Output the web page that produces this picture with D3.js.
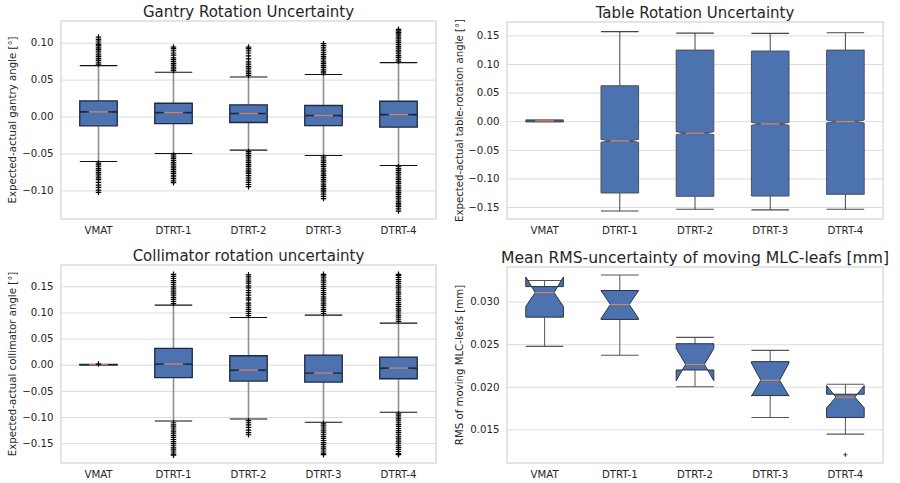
<!DOCTYPE html>
<meta charset="utf-8">
<script src="https://d3js.org/d3.v7.min.js"></script>
<style>
  body { margin: 0; background: #fff; }
  text { font-family: "DejaVu Sans", sans-serif; fill: #262626; }
</style>
<div id="my_dataviz"></div>
<script>

// categories shared by all four panels
var categories = ["VMAT", "DTRT-1", "DTRT-2", "DTRT-3", "DTRT-4"];

// ---- Gantry rotation
var gantryQ1 = [-0.0126, -0.0095, -0.0081, -0.0122, -0.0144];
var gantryMedian = [0.0063, 0.0054, 0.0041, 0.0014, 0.0027];
var gantryQ3 = [0.0212, 0.0180, 0.0158, 0.0149, 0.0207];
var gantryWhiskerLo = [-0.0608, -0.0500, -0.0455, -0.0527, -0.0662];
var gantryWhiskerHi = [0.0689, 0.0600, 0.0536, 0.0568, 0.0730];
var gantryNotchLo = [0.0057, 0.0048, 0.0035, 0.0008, 0.0021];
var gantryNotchHi = [0.0069, 0.0060, 0.0047, 0.0020, 0.0033];
var gantryOutliers = [
  [0.071, 0.0735, 0.076, 0.0785, 0.081, 0.0835, 0.086, 0.0885, 0.091, 0.093, 0.0955, 0.0973, 0.0995, 0.1022, 0.1045, 0.1076,
   -0.063, -0.0655, -0.068, -0.0705, -0.073, -0.0755, -0.078, -0.0805, -0.083, -0.0855, -0.0892, -0.0928, -0.0959, -0.0996, -0.1027],
  [0.062, 0.0645, 0.067, 0.0695, 0.072, 0.0745, 0.077, 0.0795, 0.083, 0.086, 0.089, 0.092, 0.094,
   -0.052, -0.0545, -0.057, -0.0595, -0.062, -0.0645, -0.067, -0.0695, -0.072, -0.0745, -0.077, -0.0795, -0.0815, -0.084, -0.087, -0.0896],
  [0.0555, 0.058, 0.0605, 0.063, 0.0655, 0.068, 0.071, 0.074, 0.078, 0.082, 0.086, 0.089, 0.092, 0.094,
   -0.0475, -0.05, -0.0525, -0.055, -0.0575, -0.06, -0.0625, -0.065, -0.0675, -0.07, -0.0725, -0.075, -0.077, -0.08, -0.083, -0.086, -0.089, -0.092, -0.095],
  [0.059, 0.0615, 0.064, 0.0665, 0.069, 0.0715, 0.074, 0.0765, 0.079, 0.0815, 0.084, 0.087, 0.090, 0.093, 0.096, 0.0986,
   -0.055, -0.0575, -0.060, -0.0625, -0.065, -0.0675, -0.070, -0.0725, -0.075, -0.0775, -0.080, -0.0825, -0.085, -0.0875, -0.090, -0.0925, -0.095, -0.0975, -0.0995, -0.102, -0.105, -0.108, -0.111],
  [0.075, 0.0775, 0.08, 0.0825, 0.085, 0.0875, 0.09, 0.0925, 0.095, 0.0975, 0.10, 0.1025, 0.105, 0.1075, 0.11, 0.112, 0.114, 0.116, 0.118,
   -0.068, -0.0705, -0.073, -0.0755, -0.078, -0.0805, -0.083, -0.0855, -0.088, -0.0905, -0.093, -0.0955, -0.098, -0.1005, -0.103, -0.1055, -0.108, -0.1105, -0.113, -0.1155, -0.118, -0.120, -0.122, -0.125, -0.128]
];
var gantryTicks = [-0.10, -0.05, 0.00, 0.05, 0.10];

// ---- Table rotation
var tableQ1 = [-0.0010, -0.1255, -0.1313, -0.1308, -0.1278];
var tableMedian = [0.0006, -0.0344, -0.0210, -0.0047, -0.0006];
var tableQ3 = [0.0018, 0.0619, 0.1243, 0.1226, 0.1243];
var tableWhiskerLo = [-0.0010, -0.1570, -0.1540, -0.1550, -0.1540];
var tableWhiskerHi = [0.0018, 0.1565, 0.1540, 0.1535, 0.1547];
var tableNotchLo = [0.0003, -0.0369, -0.0235, -0.0072, -0.0031];
var tableNotchHi = [0.0009, -0.0319, -0.0185, -0.0022, 0.0019];
var tableOutliers = [[], [], [], [], []];
var tableTicks = [-0.15, -0.10, -0.05, 0.00, 0.05, 0.10, 0.15];

// ---- Collimator rotation
var collQ1 = [-0.0004, -0.0248, -0.0312, -0.0331, -0.0268];
var collMedian = [0.0000, 0.0013, -0.0102, -0.0159, -0.0064];
var collQ3 = [0.0004, 0.0312, 0.0172, 0.0185, 0.0146];
var collWhiskerLo = [-0.0004, -0.1076, -0.1038, -0.1100, -0.0910];
var collWhiskerHi = [0.0004, 0.1140, 0.0904, 0.0949, 0.0796];
var collNotchLo = [-0.0002, 0.0005, -0.0110, -0.0167, -0.0072];
var collNotchHi = [0.0002, 0.0021, -0.0094, -0.0151, -0.0056];
var collOutliers = [
  [0.0012],
  [0.117, 0.121, 0.125, 0.129, 0.133, 0.137, 0.141, 0.145, 0.149, 0.153, 0.157, 0.161, 0.165, 0.169, 0.173,
   -0.111, -0.115, -0.119, -0.123, -0.127, -0.131, -0.135, -0.139, -0.143, -0.147, -0.151, -0.155, -0.159, -0.163, -0.167, -0.171, -0.173],
  [0.094, 0.098, 0.102, 0.106, 0.110, 0.114, 0.118, 0.124, 0.128, 0.133, 0.138, 0.142, 0.147, 0.151, 0.156, 0.160, 0.164, 0.168, 0.172,
   -0.107, -0.111, -0.115, -0.120, -0.125, -0.130, -0.134],
  [0.098, 0.102, 0.106, 0.110, 0.114, 0.118, 0.122, 0.126, 0.130, 0.134, 0.138, 0.142, 0.146, 0.150, 0.154, 0.158, 0.162, 0.166, 0.170, 0.173,
   -0.113, -0.117, -0.121, -0.125, -0.129, -0.133, -0.137, -0.141, -0.145, -0.149, -0.153, -0.157, -0.161, -0.165, -0.169, -0.172],
  [0.083, 0.087, 0.091, 0.095, 0.099, 0.103, 0.107, 0.111, 0.115, 0.119, 0.123, 0.127, 0.131, 0.135, 0.139, 0.143, 0.147, 0.151, 0.155, 0.159, 0.163, 0.167, 0.171, 0.173,
   -0.094, -0.098, -0.102, -0.106, -0.110, -0.114, -0.118, -0.122, -0.126, -0.130, -0.134, -0.138, -0.142, -0.146, -0.150, -0.154, -0.158, -0.162, -0.166, -0.170, -0.172]
];
var collTicks = [-0.15, -0.10, -0.05, 0.00, 0.05, 0.10, 0.15];

// ---- MLC leafs RMS
var mlcQ1 = [0.02817, 0.02790, 0.02197, 0.01897, 0.01640];
var mlcMedian = [0.03105, 0.02965, 0.02263, 0.02076, 0.01878];
var mlcQ3 = [0.03175, 0.03129, 0.02505, 0.02295, 0.01913];
var mlcWhiskerLo = [0.02474, 0.02369, 0.02000, 0.01640, 0.01445];
var mlcWhiskerHi = [0.03246, 0.03312, 0.02579, 0.02427, 0.02030];
var mlcNotchLo = [0.02942, 0.02800, 0.02072, 0.01890, 0.01753];
var mlcNotchHi = [0.03288, 0.03128, 0.02450, 0.02280, 0.02014];
var mlcOutliers = [[], [], [], [], [0.01203]];
var mlcTicks = [0.015, 0.020, 0.025, 0.030];

var svg = d3.select("#my_dataviz")
  .append("svg")
    .attr("width", 900)
    .attr("height", 483);

function drawPanel(p) {
  var x = d3.scaleBand()
    .domain(categories)
    .range([p.left, p.right])
    .padding(0);
  var y = d3.scaleLinear()
    .domain(p.domain)
    .range([p.bottom, p.top]);
  var bw = x.bandwidth() * 0.5;

  var g = svg.append("g");

  // grid
  g.append("g")
    .attr("transform", "translate(" + p.left + ",0)")
    .call(d3.axisLeft(y).tickValues(p.ticks).tickSize(-(p.right - p.left)).tickFormat(""))
    .call(function (a) { a.select(".domain").remove(); })
    .selectAll("line").attr("stroke", "#dcdcdc").attr("stroke-width", 1);

  // frame
  g.append("rect")
    .attr("x", p.left).attr("y", p.top)
    .attr("width", p.right - p.left).attr("height", p.bottom - p.top)
    .attr("fill", "none").attr("stroke", "#d2d2d2").attr("stroke-width", 1.2);

  // y axis labels
  g.append("g")
    .attr("transform", "translate(" + p.left + ",0)")
    .call(d3.axisLeft(y).tickValues(p.ticks).tickSize(0).tickPadding(7.5).tickFormat(d3.format(p.fmt)))
    .call(function (a) { a.select(".domain").remove(); })
    .selectAll("text").style("font-size", "10.2px").attr("fill", "#262626");

  // x axis labels
  g.append("g")
    .attr("transform", "translate(0," + p.bottom + ")")
    .call(d3.axisBottom(x).tickSize(0).tickPadding(8))
    .call(function (a) { a.select(".domain").remove(); })
    .selectAll("text").style("font-size", "10.2px").attr("fill", "#262626");

  var data = categories.map(function (c, i) {
    return {
      cat: c, q1: p.q1[i], med: p.median[i], q3: p.q3[i],
      lo: p.whiskerLo[i], hi: p.whiskerHi[i],
      nlo: p.notchLo[i], nhi: p.notchHi[i], fl: p.outliers[i]
    };
  });

  var boxes = g.selectAll(".box").data(data).enter().append("g");

  function cx(d) { return x(d.cat) + x.bandwidth() / 2; }

  // whiskers
  boxes.append("line")
    .attr("x1", cx).attr("x2", cx)
    .attr("y1", function (d) { return y(d.q3); })
    .attr("y2", function (d) { return y(d.hi); })
    .attr("stroke", p.whiskerColor).attr("stroke-width", p.whiskerWidth);
  boxes.append("line")
    .attr("x1", cx).attr("x2", cx)
    .attr("y1", function (d) { return y(d.q1); })
    .attr("y2", function (d) { return y(d.lo); })
    .attr("stroke", p.whiskerColor).attr("stroke-width", p.whiskerWidth);

  // caps
  ["hi", "lo"].forEach(function (k) {
    boxes.append("line")
      .attr("x1", function (d) { return cx(d) - bw / 2; })
      .attr("x2", function (d) { return cx(d) + bw / 2; })
      .attr("y1", function (d) { return y(d[k]); })
      .attr("y2", function (d) { return y(d[k]); })
      .attr("stroke", p.capColor).attr("stroke-width", 1.1);
  });

  // notched box
  boxes.append("path")
    .attr("d", function (d) {
      var l = cx(d) - bw / 2, r = cx(d) + bw / 2, n = bw / 4;
      return "M" + l + "," + y(d.q1) +
        "L" + l + "," + y(d.nlo) +
        "L" + (l + n) + "," + y(d.med) +
        "L" + l + "," + y(d.nhi) +
        "L" + l + "," + y(d.q3) +
        "L" + r + "," + y(d.q3) +
        "L" + r + "," + y(d.nhi) +
        "L" + (r - n) + "," + y(d.med) +
        "L" + r + "," + y(d.nlo) +
        "L" + r + "," + y(d.q1) + "Z";
    })
    .attr("fill", "#4c72b0")
    .attr("stroke", p.boxStroke).attr("stroke-width", p.boxWidth)
    .attr("stroke-linejoin", "miter");

  // median
  boxes.append("line")
    .attr("x1", function (d) { return cx(d) - bw / 4; })
    .attr("x2", function (d) { return cx(d) + bw / 4; })
    .attr("y1", function (d) { return y(d.med); })
    .attr("y2", function (d) { return y(d.med); })
    .attr("stroke", "#dd8452").attr("stroke-width", 1.2);

  // outliers as '+'
  var s = p.flierSize / 2;
  boxes.each(function (d) {
    d3.select(this).selectAll(".fl").data(d.fl).enter().append("path")
      .attr("d", function (v) {
        var px = cx(d), py = y(v);
        return "M" + (px - s) + "," + py + "H" + (px + s) + "M" + px + "," + (py - s) + "V" + (py + s);
      })
      .attr("stroke", p.flierColor).attr("stroke-width", 1.2).attr("fill", "none");
  });

  // title
  g.append("text")
    .attr("x", (p.left + p.right) / 2).attr("y", p.top - 4)
    .attr("text-anchor", "middle")
    .style("font-size", p.titleSize + "px")
    .text(p.title);

  // y label
  g.append("text")
    .attr("transform", "translate(" + p.ylabelX + "," + ((p.top + p.bottom) / 2) + ") rotate(-90)")
    .attr("text-anchor", "middle")
    .attr("dy", "0.35em")
    .style("font-size", "10.2px")
    .text(p.ylabel);
}

drawPanel({
  left: 61, right: 436, top: 21, bottom: 219, domain: [-0.1387, 0.1293],
  ticks: gantryTicks, fmt: ".2f",
  q1: gantryQ1, median: gantryMedian, q3: gantryQ3, whiskerLo: gantryWhiskerLo, whiskerHi: gantryWhiskerHi,
  notchLo: gantryNotchLo, notchHi: gantryNotchHi, outliers: gantryOutliers,
  boxStroke: "#1c2a40", boxWidth: 1.3, whiskerColor: "#8f8f8f", whiskerWidth: 1.6, capColor: "#111",
  flierSize: 5.5, flierColor: "#000",
  title: "Gantry Rotation Uncertainty", titleSize: 15, ylabel: "Expected-actual gantry angle [°]", ylabelX: 12
});

drawPanel({
  left: 507, right: 883, top: 22, bottom: 219, domain: [-0.171, 0.1734],
  ticks: tableTicks, fmt: ".2f",
  q1: tableQ1, median: tableMedian, q3: tableQ3, whiskerLo: tableWhiskerLo, whiskerHi: tableWhiskerHi,
  notchLo: tableNotchLo, notchHi: tableNotchHi, outliers: tableOutliers,
  boxStroke: "#4a4f5a", boxWidth: 1, whiskerColor: "#444", whiskerWidth: 1, capColor: "#444",
  flierSize: 5, flierColor: "#333",
  title: "Table Rotation Uncertainty", titleSize: 15, ylabel: "Expected-actual table-rotation angle [°]", ylabelX: 459
});

drawPanel({
  left: 61, right: 436, top: 265, bottom: 463, domain: [-0.188, 0.1908],
  ticks: collTicks, fmt: ".2f",
  q1: collQ1, median: collMedian, q3: collQ3, whiskerLo: collWhiskerLo, whiskerHi: collWhiskerHi,
  notchLo: collNotchLo, notchHi: collNotchHi, outliers: collOutliers,
  boxStroke: "#1c2a40", boxWidth: 1.3, whiskerColor: "#8f8f8f", whiskerWidth: 1.6, capColor: "#111",
  flierSize: 5.5, flierColor: "#000",
  title: "Collimator rotation uncertainty", titleSize: 15, ylabel: "Expected-actual collimator angle [°]", ylabelX: 12
});

drawPanel({
  left: 507, right: 883, top: 267, bottom: 463, domain: [0.01106, 0.03405],
  ticks: mlcTicks, fmt: ".3f",
  q1: mlcQ1, median: mlcMedian, q3: mlcQ3, whiskerLo: mlcWhiskerLo, whiskerHi: mlcWhiskerHi,
  notchLo: mlcNotchLo, notchHi: mlcNotchHi, outliers: mlcOutliers,
  boxStroke: "#2a3340", boxWidth: 1, whiskerColor: "#555", whiskerWidth: 1, capColor: "#555",
  flierSize: 4, flierColor: "#444",
  title: "Mean RMS-uncertainty of moving MLC-leafs [mm]", titleSize: 15.6, ylabel: "RMS of moving MLC-leafs [mm]", ylabelX: 459
});

</script>
